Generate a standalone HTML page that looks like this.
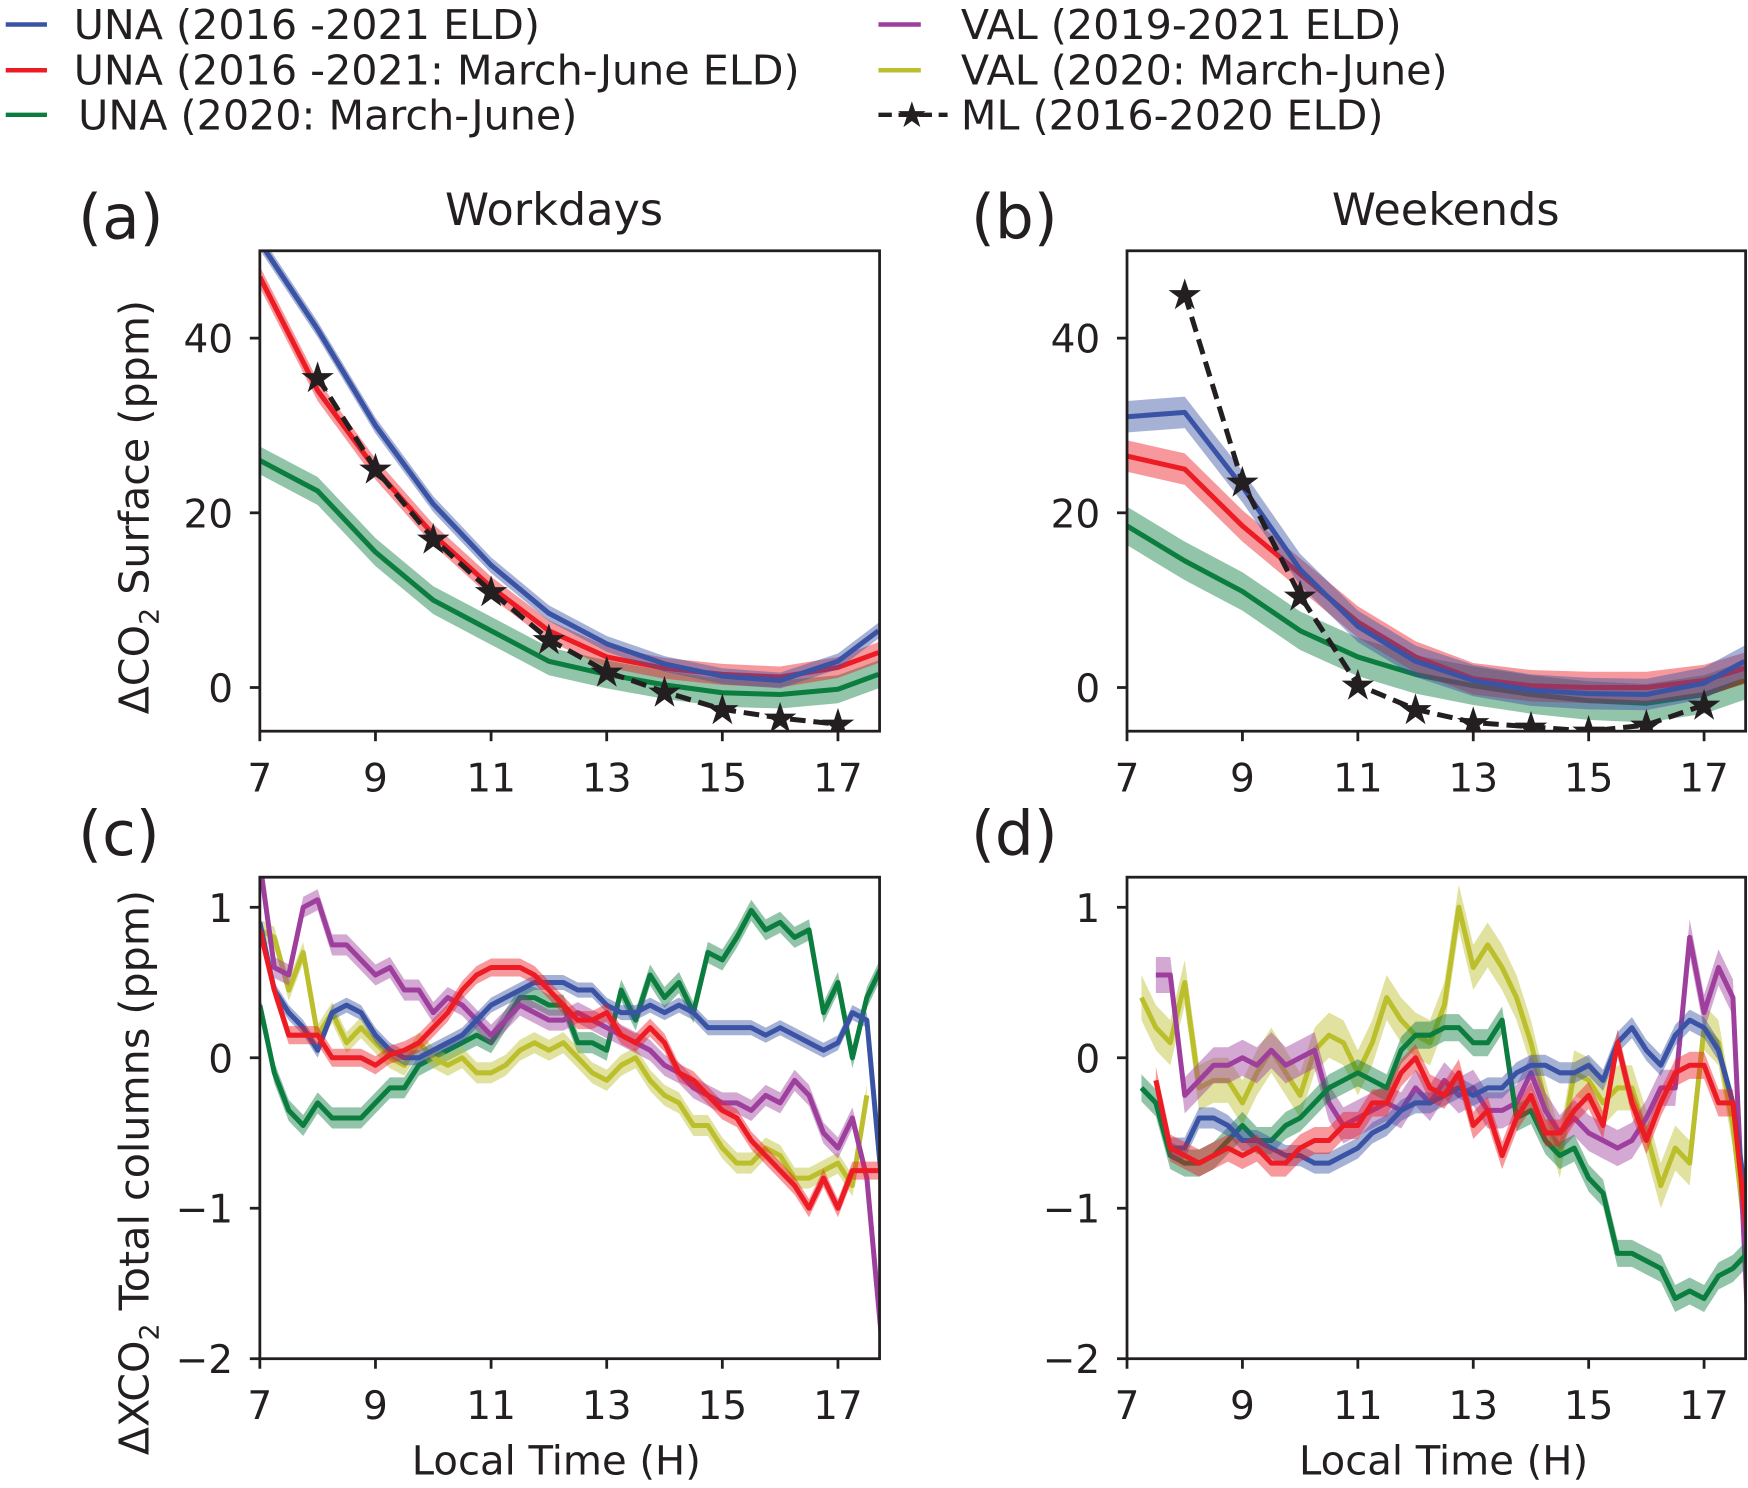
<!DOCTYPE html>
<html><head><meta charset="utf-8"><style>
html,body{margin:0;padding:0;background:#fff;}
svg{display:block;font-family:"DejaVu Sans","Liberation Sans",sans-serif;}
</style></head><body>
<svg id="fig" width="1748" height="1488" viewBox="0 0 1568 1335" xmlns="http://www.w3.org/2000/svg">
<g id="legend" font-size="37" fill="#231f20">
 <g><line x1="5" y1="22" x2="42" y2="22" stroke="#3a53a4" stroke-width="4"/><text x="66" y="35">UNA (2016 -2021 ELD)</text></g>
 <g><line x1="5" y1="63" x2="42" y2="63" stroke="#ed1c24" stroke-width="4"/><text x="66" y="76">UNA (2016 -2021: March-June ELD)</text></g>
 <g><line x1="5" y1="103" x2="42" y2="103" stroke="#0b7d3e" stroke-width="4"/><text x="70" y="116">UNA (2020: March-June)</text></g>
 <g><line x1="788" y1="22" x2="826" y2="22" stroke="#9e3f9d" stroke-width="4"/><text x="862" y="35">VAL (2019-2021 ELD)</text></g>
 <g><line x1="788" y1="63" x2="826" y2="63" stroke="#bcbf2c" stroke-width="4"/><text x="862" y="76">VAL (2020: March-June)</text></g>
 <g><line x1="788" y1="103" x2="850" y2="103" stroke="#231f20" stroke-width="4" stroke-dasharray="12,6"/><text x="818" y="114" font-size="32" text-anchor="middle">★</text><text x="862" y="116">ML (2016-2020 ELD)</text></g>
</g>
<text x="70" y="214" font-size="55" fill="#231f20">(a)</text>
<text x="871" y="214" font-size="55" fill="#231f20">(b)</text>
<text x="70" y="767" font-size="55" fill="#231f20">(c)</text>
<text x="871" y="767" font-size="55" fill="#231f20">(d)</text>
<text x="497" y="202" font-size="40" text-anchor="middle" fill="#231f20">Workdays</text>
<text x="1297" y="202" font-size="40" text-anchor="middle" fill="#231f20">Weekends</text>
<text transform="translate(133,455) rotate(-90)" font-size="37" text-anchor="middle" fill="#231f20">ΔCO<tspan font-size="24" dy="9">2</tspan><tspan dy="-9"> Surface (ppm)</tspan></text>
<text transform="translate(133,1052) rotate(-90)" font-size="37" text-anchor="middle" fill="#231f20">ΔXCO<tspan font-size="24" dy="9">2</tspan><tspan dy="-9"> Total columns (ppm)</tspan></text>
<text x="499" y="1323" font-size="36" text-anchor="middle" fill="#231f20">Local Time (H)</text>
<text x="1295" y="1323" font-size="36" text-anchor="middle" fill="#231f20">Local Time (H)</text>
</svg>
<script>
// ---------- data ----------
const hoursTop = [7,8,9,10,11,12,13,14,15,16,17,17.7];
const aBlue  = [51,41,30,21,14,8.5,5,2.7,1.3,0.8,3,6.5];
const aRed   = [47,34,25,17.5,11.5,6.5,3.5,2.2,1.5,1.2,2.3,4];
const aGreen = [26,22.5,15.5,10,6.5,3,1.5,0.3,-0.6,-0.8,-0.2,1.5];
const mlHours = [8,9,10,11,12,13,14,15,16,17];
const aML    = [35.5,25,17,11,5.5,1.8,-0.5,-2.5,-3.5,-4.2];
const bBlue  = [31,31.5,23,13.5,7,3,0.8,-0.3,-0.7,-0.8,0.5,3];
const bRed   = [26.5,25,18.5,13,7.5,3.5,1,0.2,0,0,0.8,2.2];
const bGreen = [18.5,14.5,11,6.5,3.5,1.5,0.2,-0.8,-1.5,-1.8,-0.8,0.8];
const bML    = [45,23.5,10.5,0.3,-2.5,-4,-4.5,-5,-4.3,-2];
const topYTicks = [0,20,40];
const xTicks = [7,9,11,13,15,17];
const botYTicks = [-2,-1,0,1];
// bottom panels: quarter-hour samples starting 7.00
const qStart = 7, qStep = 0.25;
const cBlue   = [0.9,0.45,0.3,0.2,0.05,0.3,0.35,0.3,0.15,0.05,0,0,0.05,0.1,0.15,0.25,0.35,0.4,0.45,0.5,0.5,0.5,0.45,0.45,0.35,0.3,0.3,0.35,0.3,0.35,0.3,0.2,0.2,0.2,0.2,0.15,0.2,0.15,0.1,0.05,0.1,0.3,0.25,-0.8];
const cRed    = [0.85,0.45,0.15,0.15,0.15,0,0,0,-0.05,0.02,0.05,0.1,0.2,0.3,0.45,0.55,0.6,0.6,0.6,0.55,0.45,0.35,0.25,0.25,0.3,0.15,0.1,0.2,0.1,-0.1,-0.15,-0.25,-0.35,-0.4,-0.55,-0.65,-0.75,-0.85,-1.0,-0.8,-1.0,-0.75,-0.75,-0.75];
const cGreen  = [0.35,-0.1,-0.35,-0.45,-0.3,-0.4,-0.4,-0.4,-0.3,-0.2,-0.2,-0.05,0,0.05,0.1,0.15,0.1,0.25,0.4,0.4,0.35,0.35,0.1,0.1,0.05,0.45,0.25,0.55,0.4,0.5,0.3,0.7,0.65,0.8,0.98,0.85,0.9,0.8,0.85,0.3,0.5,0,0.4,0.6];
const cPurple = [1.3,0.6,0.55,1.0,1.05,0.75,0.75,0.65,0.55,0.6,0.45,0.45,0.3,0.4,0.35,0.25,0.15,0.25,0.35,0.3,0.25,0.25,0.3,0.25,0.2,0.15,0.1,0.05,-0.05,-0.1,-0.2,-0.25,-0.3,-0.3,-0.35,-0.25,-0.3,-0.15,-0.25,-0.5,-0.6,-0.4,-0.8,-1.85];
const cYellow = [0.85,0.8,0.45,0.7,0.15,0.3,0.1,0.2,0.1,0,-0.05,0.1,0,-0.05,0,-0.1,-0.1,-0.05,0.05,0.1,0.05,0.1,0,-0.1,-0.15,-0.05,0,-0.15,-0.25,-0.3,-0.45,-0.45,-0.6,-0.7,-0.7,-0.6,-0.65,-0.8,-0.8,-0.75,-0.7,-0.85,-0.25,null];
const dBlue   = [null,null,null,-0.6,-0.6,-0.4,-0.4,-0.45,-0.55,-0.55,-0.6,-0.65,-0.65,-0.7,-0.7,-0.65,-0.6,-0.5,-0.45,-0.35,-0.3,-0.3,-0.25,-0.2,-0.25,-0.2,-0.2,-0.1,-0.05,-0.05,-0.1,-0.1,-0.05,-0.15,0.1,0.2,0.05,-0.05,0.15,0.25,0.2,0.05,-0.3,-1.0];
const dRed    = [null,null,-0.15,-0.6,-0.65,-0.7,-0.65,-0.6,-0.65,-0.6,-0.7,-0.7,-0.6,-0.55,-0.55,-0.45,-0.45,-0.3,-0.3,-0.1,0,-0.2,-0.25,-0.1,-0.45,-0.35,-0.65,-0.4,-0.25,-0.5,-0.5,-0.35,-0.25,-0.45,0.1,-0.3,-0.55,-0.3,-0.1,-0.05,-0.05,-0.3,-0.3,-1.2];
const dGreen  = [null,-0.2,-0.3,-0.65,-0.7,-0.7,-0.65,-0.55,-0.45,-0.55,-0.55,-0.45,-0.4,-0.3,-0.2,-0.15,-0.1,-0.15,-0.2,0.05,0.15,0.15,0.2,0.2,0.1,0.1,0.25,-0.4,-0.35,-0.55,-0.65,-0.6,-0.8,-0.9,-1.3,-1.3,-1.35,-1.4,-1.6,-1.55,-1.6,-1.45,-1.4,-1.3];
const dPurple = [null,null,0.55,0.55,-0.25,-0.15,-0.05,-0.05,0,-0.05,0.05,-0.05,0,0.05,-0.3,-0.45,-0.4,-0.35,-0.3,-0.35,-0.2,-0.3,-0.15,-0.25,-0.2,-0.35,-0.35,-0.3,-0.1,-0.35,-0.5,-0.4,-0.5,-0.55,-0.6,-0.55,-0.4,-0.2,-0.2,0.8,0.3,0.6,0.4,-1.7];
const dYellow = [null,0.4,0.2,0.1,0.5,-0.2,-0.15,-0.15,-0.3,-0.1,0.05,-0.1,-0.25,0.05,0.15,0.1,-0.1,0.1,0.4,0.25,0.15,0.1,0.35,1.0,0.6,0.75,0.6,0.4,0.1,-0.3,-0.65,-0.1,-0.15,-0.3,-0.2,-0.2,-0.5,-0.85,-0.6,-0.7,0.2,0.1,-0.45,-1.3];

// ---------- drawing ----------
const NS = "http://www.w3.org/2000/svg";
const svg = document.getElementById('fig');
const C = {blue:'#3a53a4', red:'#ed1c24', green:'#0b7d3e', purple:'#9e3f9d', yellow:'#bcbf2c', ink:'#231f20'};
function mk(tag, attrs, parent){const e=document.createElementNS(NS,tag);for(const k in attrs)e.setAttribute(k,attrs[k]);(parent||svg).appendChild(e);return e;}

function makePanel(id, L, R, T, B, xmin, xmax, ymin, ymax, yticks){
  const g = mk('g',{});
  
  
  const cp = mk('clipPath',{id:'clip-'+id}, g);
  mk('rect',{x:L,y:T,width:R-L,height:B-T}, cp);
  const sx = v => L + (v - xmin) / (xmax - xmin) * (R - L);
  const sy = v => B - (v - ymin) / (ymax - ymin) * (B - T);
  const plot = mk('g',{'clip-path':'url(#clip-'+id+')'}, g);
  
  
  const axes = mk('g',{}, g);
  
  
  mk('rect',{x:L,y:T,width:R-L,height:B-T,fill:'none',stroke:C.ink,'stroke-width':2.5}, axes);
  xTicks.forEach(t=>{
    const x = sx(t);
    mk('line',{x1:x,y1:B,x2:x,y2:B+9,stroke:C.ink,'stroke-width':2.5}, axes);
    const tx = mk('text',{x:x,y:B+54,'font-size':35,'text-anchor':'middle',fill:C.ink}, axes);
    tx.textContent = t;
    
    
  });
  yticks.forEach(t=>{
    const y = sy(t);
    mk('line',{x1:L-9,y1:y,x2:L,y2:y,stroke:C.ink,'stroke-width':2.5}, axes);
    const tx = mk('text',{x:L-24,y:y+13,'font-size':35,'text-anchor':'end',fill:C.ink}, axes);
    tx.textContent = t < 0 ? '\u2212' + Math.abs(t) : t;
    
    
  });
  return {plot, sx, sy};
}

function segments(xs, ys){
  const segs=[]; let cur=[];
  xs.forEach((x,i)=>{ if(ys[i]===null||ys[i]===undefined){ if(cur.length) segs.push(cur); cur=[]; } else cur.push([x,ys[i]]); });
  if(cur.length) segs.push(cur); return segs;
}
function series(P, xs, ys, color, band, name){
  segments(xs, ys).forEach(seg=>{
    const up = seg.map(p=>P.sx(p[0])+','+P.sy(p[1]+band)).join(' ');
    const dn = seg.slice().reverse().map(p=>P.sx(p[0])+','+P.sy(p[1]-band)).join(' ');
    const poly = mk('polygon',{points:up+' '+dn, fill:color, 'fill-opacity':0.45, stroke:'none'}, P.plot);
    
    
  });
  segments(xs, ys).forEach(seg=>{
    const pl = mk('polyline',{points:seg.map(p=>P.sx(p[0])+','+P.sy(p[1])).join(' '), fill:'none', stroke:color, 'stroke-width':4.5, 'stroke-linejoin':'round'}, P.plot);
    
    
  });
}
function mlSeries(P, xs, ys, name){
  const pl = mk('polyline',{points:xs.map((x,i)=>P.sx(x)+','+P.sy(ys[i])).join(' '), fill:'none', stroke:C.ink, 'stroke-width':4.5, 'stroke-dasharray':'14,7'}, P.plot);
  
  
  xs.forEach((x,i)=>{
    const s = mk('text',{x:P.sx(x), y:P.sy(ys[i])+13, 'font-size':38, 'text-anchor':'middle', fill:C.ink}, P.plot);
    s.textContent = '★';
    
    
  });
}

const PA = makePanel('a', 233, 789, 225, 656, 7, 17.72, -5, 50, topYTicks);
const PB = makePanel('b', 1011, 1566, 225, 656, 7, 17.72, -5, 50, topYTicks);
const PC = makePanel('c', 233, 789, 787, 1219, 7, 17.72, -2, 1.2, botYTicks);
const PD = makePanel('d', 1011, 1566, 787, 1219, 7, 17.72, -2, 1.2, botYTicks);

series(PA, hoursTop, aGreen, C.green, 1.6, 'a-una-2020');
series(PA, hoursTop, aRed, C.red, 1.2, 'a-una-march-june');
series(PA, hoursTop, aBlue, C.blue, 0.9, 'a-una-eld');
mlSeries(PA, mlHours, aML, 'a-ml');
series(PB, hoursTop, bGreen, C.green, 2.2, 'b-una-2020');
series(PB, hoursTop, bRed, C.red, 1.8, 'b-una-march-june');
series(PB, hoursTop, bBlue, C.blue, 1.8, 'b-una-eld');
mlSeries(PB, mlHours, bML, 'b-ml');

const qHours = cBlue.map((_,i)=>qStart + i*qStep);
series(PC, qHours, cGreen, C.green, 0.07, 'c-una-2020');
series(PC, qHours, cYellow, C.yellow, 0.07, 'c-val-2020');
series(PC, qHours, cPurple, C.purple, 0.07, 'c-val-eld');
series(PC, qHours, cBlue, C.blue, 0.05, 'c-una-eld');
series(PC, qHours, cRed, C.red, 0.06, 'c-una-march-june');
series(PD, qHours, dYellow, C.yellow, 0.15, 'd-val-2020');
series(PD, qHours, dPurple, C.purple, 0.12, 'd-val-eld');
series(PD, qHours, dGreen, C.green, 0.09, 'd-una-2020');
series(PD, qHours, dBlue, C.blue, 0.07, 'd-una-eld');
series(PD, qHours, dRed, C.red, 0.09, 'd-una-march-june');
</script>
</body></html>
